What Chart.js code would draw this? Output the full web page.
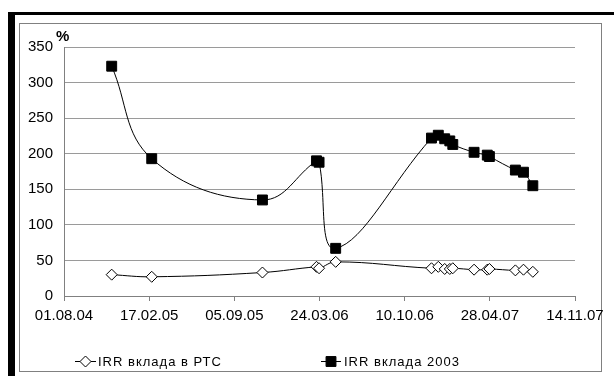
<!DOCTYPE html>
<html>
<head>
<meta charset="utf-8">
<script src="https://cdn.jsdelivr.net/npm/chart.js@4.4.1/dist/chart.umd.min.js"></script>
<style>
  html, body { margin: 0; padding: 0; background: #fff; }
  #wrap { position: relative; width: 614px; height: 376px; overflow: hidden; }
  #frame { position: absolute; left: 8px; top: 12px; width: 620px; height: 380px;
           border-top: 3px solid #000; border-left: 7px solid #000; }
  #box { position: absolute; left: 19px; top: 23px; width: 581px; height: 347px;
         border: 1px solid #808080; }
  canvas { position: absolute; left: 0; top: 0; }
</style>
</head>
<body>
<div id="wrap">
  <div id="frame"></div>
  <div id="box"></div>
  <canvas id="c" width="614" height="376"></canvas>
</div>
<script>
// Observation dates (dd.mm.yy)
const dates = ['21.11.04', '23.02.05', '10.11.05', '17.03.06', '23.03.06', '01.05.06',
               '12.12.06', '28.12.06', '12.01.07', '24.01.07', '31.01.07', '22.03.07',
               '22.04.07', '27.04.07', '27.06.07', '16.07.07', '07.08.07'];
// IRR of the deposit in RTS, %
const irrRts = [30, 27, 33, 41, 39, 48, 39, 41, 38, 38, 39, 37, 37, 38, 36, 37, 34];
// IRR of the 2003 deposit, %
const irr2003 = [323, 193, 135, 190, 188, 67, 222, 226, 221, 218, 213, 202, 198, 196, 177, 174, 155];
// Axis range and labels
const axisStart = '01.08.04';
const axisEnd = '14.11.07';
const axisStepDays = 200;
const seriesNames = ['IRR вклада в РТС', 'IRR вклада 2003'];
const yUnit = '%';

const DAY = 86400000;
function parseDate(s) {
  const [d, m, y] = s.split('.').map(Number);
  return Date.UTC(2000 + y, m - 1, d);
}
const origin = parseDate(axisStart);
const toDays = s => Math.round((parseDate(s) - origin) / DAY);
function fmt(days) {
  const dt = new Date(origin + days * DAY);
  const p = n => String(n).padStart(2, '0');
  return p(dt.getUTCDate()) + '.' + p(dt.getUTCMonth() + 1) + '.' + p(dt.getUTCFullYear() % 100);
}

const xs = dates.map(toDays);
const ptsRts = xs.map((x, i) => ({ x, y: irrRts[i] }));
const pts2003 = xs.map((x, i) => ({ x, y: irr2003[i] }));

const FONT = '"Liberation Sans", Arial, sans-serif';

// Legend drawn as line + marker + letter-spaced caption, plus the unit label
const extras = {
  id: 'extras',
  afterDraw(chart) {
    const ctx = chart.ctx;
    ctx.save();
    ctx.fillStyle = '#000';
    ctx.font = 'bold 15px ' + FONT;
    ctx.textBaseline = 'alphabetic';
    ctx.fillText(yUnit, 56, 41);

    const items = [
      { x0: 75, x1: 96, tx: 98, ds: chart.data.datasets[0] },
      { x0: 321, x1: 341, tx: 344, ds: chart.data.datasets[1] }
    ];
    const y = 361.5;
    items.forEach(it => {
      ctx.strokeStyle = '#000';
      ctx.lineWidth = 1;
      ctx.beginPath();
      ctx.moveTo(it.x0, y);
      ctx.lineTo(it.x1, y);
      ctx.stroke();
      ctx.fillStyle = it.ds.pointBackgroundColor;
      ctx.strokeStyle = it.ds.pointBorderColor;
      ctx.lineWidth = 1;
      Chart.helpers.drawPoint(ctx, {
        pointStyle: it.ds.pointStyle, rotation: 0, radius: it.ds.pointRadius, borderWidth: 1
      }, (it.x0 + it.x1) / 2, y);
      ctx.fillStyle = '#000';
      ctx.font = '13px ' + FONT;
      ctx.letterSpacing = '1px';
      ctx.textBaseline = 'middle';
      ctx.fillText(it.ds.label, it.tx, y + 0.5);
      ctx.letterSpacing = '0px';
    });
    ctx.restore();
  }
};

new Chart(document.getElementById('c'), {
  type: 'line',
  data: {
    datasets: [
      {
        label: seriesNames[0],
        data: ptsRts,
        borderColor: '#000',
        borderWidth: 1,
        tension: 0.4,
        pointStyle: 'rectRot',
        pointRadius: 5.5,
        pointBackgroundColor: '#fff',
        pointBorderColor: '#000',
        pointBorderWidth: 1
      },
      {
        label: seriesNames[1],
        data: pts2003,
        borderColor: '#000',
        borderWidth: 1,
        tension: 0.4,
        pointStyle: 'rect',
        pointRadius: 7,
        pointBackgroundColor: '#000',
        pointBorderColor: '#000',
        pointBorderWidth: 1
      }
    ]
  },
  options: {
    responsive: false,
    animation: false,
    events: [],
    layout: { padding: { left: 18, right: 39, top: 47, bottom: 40 } },
    plugins: { legend: { display: false }, tooltip: { enabled: false } },
    scales: {
      x: {
        type: 'linear',
        min: 0,
        max: toDays(axisEnd),
        afterFit: s => { s.height = 40; },
        ticks: {
          stepSize: axisStepDays,
          autoSkip: false,
          maxRotation: 0,
          padding: 6,
          color: '#000',
          font: { family: FONT, size: 15 },
          callback: v => fmt(v)
        },
        grid: { drawOnChartArea: false, drawTicks: true, tickLength: 5, color: '#808080' },
        border: { color: '#808080', width: 1 }
      },
      y: {
        min: 0,
        max: 350,
        afterFit: s => { s.width = 46; },
        ticks: {
          stepSize: 50,
          padding: 11,
          color: '#000',
          font: { family: FONT, size: 15 }
        },
        grid: { color: '#9a9a9a', lineWidth: 1, drawTicks: false },
        border: { color: '#808080', width: 1 }
      }
    }
  },
  plugins: [extras]
});
</script>
</body>
</html>
